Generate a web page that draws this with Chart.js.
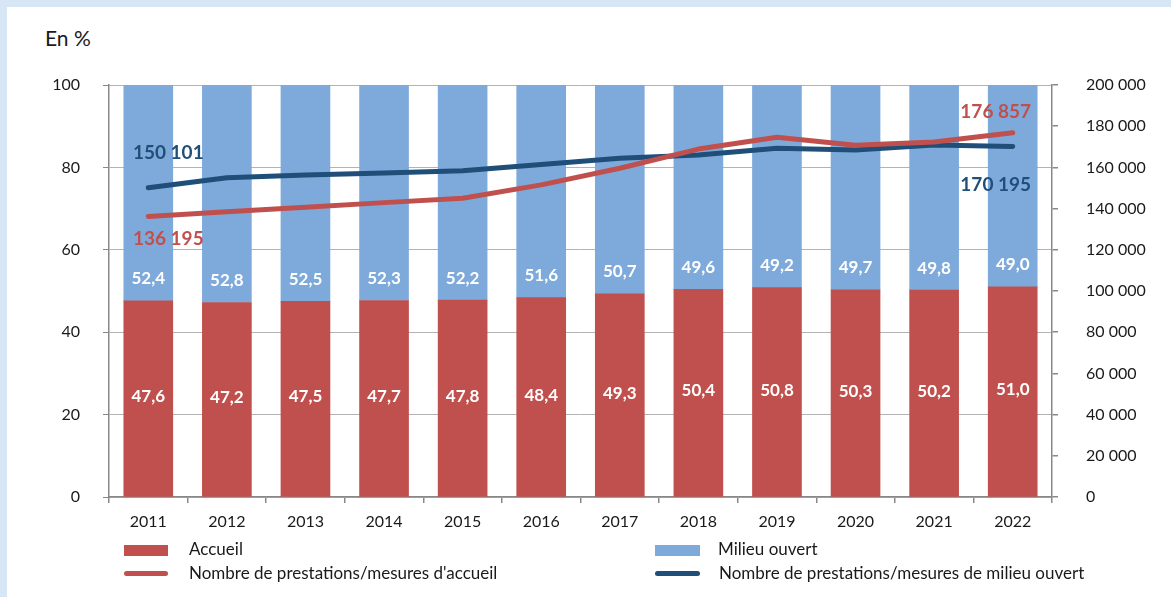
<!DOCTYPE html>
<html>
<head>
<meta charset="utf-8">
<script src="https://cdn.jsdelivr.net/npm/chart.js@4/dist/chart.umd.min.js"></script>
<style>
  html,body{margin:0;padding:0;}
  body{width:1171px;height:597px;background:#d6e6f4;position:relative;overflow:hidden;font-family:Lato,"Noto Sans",sans-serif;}
  #panel{position:absolute;left:7px;top:7px;right:0;bottom:0;background:#fff;}
  #wrap{position:absolute;left:0;top:0;width:1171px;height:597px;}
  #title{position:absolute;left:45px;top:25px;font-size:21px;color:#1a1a1a;}
  .lg{position:absolute;font-size:17px;color:#1a1a1a;line-height:20px;white-space:nowrap;}
  .sw{position:absolute;}
</style>
</head>
<body>
<div id="panel"></div>
<div id="title">En %</div>
<div id="wrap"><canvas id="c" width="1171" height="597"></canvas></div>

<div class="sw" style="left:124px;top:545px;width:44px;height:11px;background:#c0504d"></div>
<div class="lg" style="left:189px;top:539px">Accueil</div>
<div class="sw" style="left:124px;top:571px;width:44px;height:5px;border-radius:3px;background:#c0504d"></div>
<div class="lg" style="left:189px;top:563px">Nombre de prestations/mesures d'accueil</div>

<div class="sw" style="left:655px;top:545px;width:45px;height:11px;background:#7eaadb"></div>
<div class="lg" style="left:718px;top:539px">Milieu ouvert</div>
<div class="sw" style="left:655px;top:571px;width:45px;height:5px;border-radius:3px;background:#1f4e79"></div>
<div class="lg" style="left:719px;top:563px">Nombre de prestations/mesures de milieu ouvert</div>

<script>
const years = ['2011','2012','2013','2014','2015','2016','2017','2018','2019','2020','2021','2022'];
const pctAccueil = [47.6,47.2,47.5,47.7,47.8,48.4,49.3,50.4,50.8,50.3,50.2,51.0];
const pctMilieu  = [52.4,52.8,52.5,52.3,52.2,51.6,50.7,49.6,49.2,49.7,49.8,49.0];
const nbAccueil  = [136195,138500,140600,142900,145000,151500,159600,168900,174600,170700,172300,176857];
const nbMilieu   = [150101,155000,156300,157300,158400,161400,164400,166000,169300,168400,170900,170195];
const leftTicks  = [0,20,40,60,80,100];
const rightTicks = [0,20000,40000,60000,80000,100000,120000,140000,160000,180000,200000];

const RED = '#c0504d', LBLUE = '#7eaadb', DBLUE = '#1f4e79';
const FONT = 'Lato, "Noto Sans", sans-serif';
const fmtPct = v => v.toFixed(1).replace('.', ',');
const fmtNb = v => String(Math.round(v)).replace(/\B(?=(\d{3})+(?!\d))/g, ' ');

const labelPlugin = {
  id: 'labels',
  afterDatasetsDraw(chart) {
    const ctx = chart.ctx;
    ctx.save();
    ctx.textAlign = 'center';
    ctx.textBaseline = 'middle';
    ctx.fillStyle = '#fff';
    ctx.font = 'bold 17px ' + FONT;
    const mA = chart.getDatasetMeta(2), mM = chart.getDatasetMeta(3);
    mA.data.forEach((b, i) => {
      ctx.fillText(fmtPct(pctAccueil[i]), b.x, (b.y + b.base) / 2 - 2);
    });
    mM.data.forEach((b, i) => {
      ctx.fillText(fmtPct(pctMilieu[i]), b.x, b.base - 22);
    });
    ctx.font = 'bold 19px ' + FONT;
    const lA = chart.getDatasetMeta(0).data, lM = chart.getDatasetMeta(1).data;
    const n = years.length - 1;
    ctx.fillStyle = DBLUE;
    ctx.fillText(fmtNb(nbMilieu[0]), lM[0].x + 20, lM[0].y - 35);
    ctx.fillText(fmtNb(nbMilieu[n]), lM[n].x - 17, lM[n].y + 38);
    ctx.fillStyle = RED;
    ctx.fillText(fmtNb(nbAccueil[0]), lA[0].x + 20, lA[0].y + 22);
    ctx.fillText(fmtNb(nbAccueil[n]), lA[n].x - 17, lA[n].y - 21);
    ctx.restore();
  }
};

new Chart(document.getElementById('c'), {
  data: {
    labels: years,
    datasets: [
      { type: 'line', label: "Nombre de prestations/mesures d'accueil", data: nbAccueil, yAxisID: 'y1',
        borderColor: RED, borderWidth: 5, pointRadius: 0, tension: 0, order: 0, borderCapStyle: 'round', borderJoinStyle: 'round' },
      { type: 'line', label: 'Nombre de prestations/mesures de milieu ouvert', data: nbMilieu, yAxisID: 'y1',
        borderColor: DBLUE, borderWidth: 5, pointRadius: 0, tension: 0, order: 0, borderCapStyle: 'round', borderJoinStyle: 'round' },
      { type: 'bar', label: 'Accueil', data: pctAccueil, yAxisID: 'y', backgroundColor: RED,
        barThickness: 49, order: 1, stack: 's' },
      { type: 'bar', label: 'Milieu ouvert', data: pctMilieu, yAxisID: 'y', backgroundColor: LBLUE,
        barThickness: 49, order: 2, stack: 's' }
    ]
  },
  options: {
    responsive: false,
    animation: false,
    layout: { padding: { top: 85, left: 0, right: 0, bottom: 0 } },
    plugins: { legend: { display: false }, tooltip: { enabled: false } },
    scales: {
      x: {
        stacked: true,
        offset: true,
        afterFit(s) { s.height = 100; },
        grid: { offset: true, drawOnChartArea: false, drawTicks: true, tickLength: 6, color: '#888', lineWidth: 1.5 },
        border: { color: '#888', width: 1.5 },
        ticks: { font: { family: FONT, size: 16 }, color: '#1a1a1a', padding: 9 }
      },
      y: {
        stacked: true,
        position: 'left',
        min: 0, max: 100,
        afterFit(s) { s.width = 109; },
        afterBuildTicks(s) { s.ticks = leftTicks.map(v => ({ value: v })); },
        grid: { color: '#b3b3b3', lineWidth: 1, drawTicks: true, tickLength: 6, tickColor: '#888' },
        border: { color: '#888', width: 1.5 },
        ticks: { font: { family: FONT, size: 16 }, color: '#1a1a1a', padding: 23 }
      },
      y1: {
        position: 'right',
        min: 0, max: 200000,
        afterFit(s) { s.width = 119; },
        afterBuildTicks(s) { s.ticks = rightTicks.map(v => ({ value: v })); },
        grid: { drawOnChartArea: false, drawTicks: true, tickLength: 6, color: '#888', lineWidth: 1.5 },
        border: { color: '#888', width: 1.5 },
        ticks: { font: { family: FONT, size: 16 }, color: '#1a1a1a', padding: 28, callback: v => fmtNb(v) }
      }
    }
  },
  plugins: [labelPlugin]
});
</script>
</body>
</html>
